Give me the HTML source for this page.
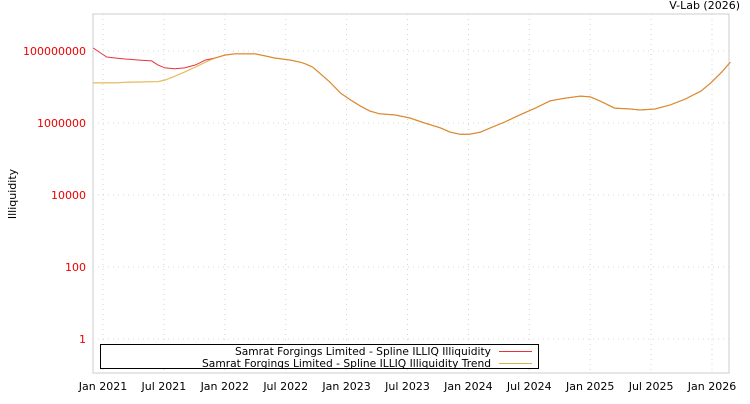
<!DOCTYPE html>
<html><head><meta charset="utf-8"><style>
body{margin:0;background:#fff;font-family:"DejaVu Sans","Liberation Sans",sans-serif;}
svg text{font-family:"DejaVu Sans","Liberation Sans",sans-serif;}
</style></head><body>
<svg id="c" width="750" height="400"></svg>
<script>
const dates=[2020.92,2020.98,2021.03,2021.10,2021.18,2021.30,2021.40,2021.45,2021.51,2021.59,2021.67,2021.76,2021.84,2021.92,2022.00,2022.08,2022.25,2022.33,2022.41,2022.54,2022.62,2022.66,2022.72,2022.78,2022.86,2022.95,2023.03,2023.11,2023.19,2023.27,2023.40,2023.52,2023.64,2023.77,2023.85,2023.93,2024.01,2024.10,2024.18,2024.30,2024.42,2024.55,2024.67,2024.79,2024.92,2025.00,2025.08,2025.20,2025.33,2025.41,2025.53,2025.66,2025.78,2025.91,2025.99,2026.08,2026.15];
const illiq=[1.21e8,8.8e7,6.8e7,6.4e7,6.0e7,5.6e7,5.3e7,4.1e7,3.4e7,3.2e7,3.4e7,4.1e7,5.6e7,6.4e7,7.7e7,8.3e7,8.3e7,7.3e7,6.4e7,5.6e7,4.9e7,4.4e7,3.6e7,2.4e7,1.4e7,6.8e6,4.4e6,3.0e6,2.15e6,1.8e6,1.67e6,1.38e6,1.0e6,7.3e5,5.6e5,4.9e5,4.9e5,5.6e5,7.3e5,1.07e6,1.67e6,2.6e6,4.1e6,4.9e6,5.6e6,5.3e6,4.1e6,2.6e6,2.45e6,2.3e6,2.45e6,3.2e6,4.6e6,7.7e6,1.3e7,2.6e7,4.9e7];
const trend=[1.3e7,1.3e7,1.3e7,1.3e7,1.35e7,1.38e7,1.4e7,1.4e7,1.56e7,2.0e7,2.6e7,3.6e7,4.9e7,6.4e7,7.7e7,8.3e7,8.3e7,7.3e7,6.4e7,5.6e7,4.9e7,4.4e7,3.6e7,2.4e7,1.4e7,6.8e6,4.4e6,3.0e6,2.15e6,1.8e6,1.67e6,1.38e6,1.0e6,7.3e5,5.6e5,4.9e5,4.9e5,5.6e5,7.3e5,1.07e6,1.67e6,2.6e6,4.1e6,4.9e6,5.6e6,5.3e6,4.1e6,2.6e6,2.45e6,2.3e6,2.45e6,3.2e6,4.6e6,7.7e6,1.3e7,2.6e7,4.9e7];
const yTicks=[1,100,10000,1000000,100000000];
const xTickLabels=["Jan 2021","Jul 2021","Jan 2022","Jul 2022","Jan 2023","Jul 2023","Jan 2024","Jul 2024","Jan 2025","Jul 2025","Jan 2026"];
const xTickVals=[2021,2021.5,2022,2022.5,2023,2023.5,2024,2024.5,2025,2025.5,2026];

const NS="http://www.w3.org/2000/svg";const svg=document.getElementById('c');
const L=93,R=729,T=14,B=373;
const xs=v=>103+(v-2021)*121.8;
const ys=v=>339-Math.log10(v)*36;
function mk(t,a,p){const e=document.createElementNS(NS,t);for(const k in a)e.setAttribute(k,a[k]);(p||svg).appendChild(e);return e;}
const frame=mk('rect',{x:L,y:T,width:R-L,height:B-T,fill:'#fff',stroke:'#ccc'});


yTicks.forEach(v=>{const y=ys(v);
 const g=mk('line',{x1:L,x2:R,y1:y,y2:y,stroke:'#d4d4d4','stroke-dasharray':'1,4'});
 
 
 const t=mk('text',{x:86,y:y+4,'text-anchor':'end','font-size':11,fill:'#e00'});t.textContent=String(v);
 
 });
xTickVals.forEach((v,i)=>{const x=xs(v);
 const g=mk('line',{x1:x,x2:x,y1:T,y2:B,stroke:'#d4d4d4','stroke-dasharray':'1,4'});
 
 
 const t=mk('text',{x:x,y:390,'text-anchor':'middle','font-size':11,fill:'#000'});t.textContent=xTickLabels[i];
 
 });
function path(vals){return vals.map((v,i)=>(i?'L':'M')+xs(dates[i]).toFixed(1)+','+ys(v).toFixed(1)).join('');}
const p1=mk('path',{d:path(illiq),fill:'none',stroke:'#e8333a','stroke-width':1});


const p2=mk('path',{d:path(trend),fill:'none',stroke:'rgba(215,165,40,0.75)','stroke-width':1.2});


const yt=mk('text',{x:0,y:0,transform:'translate(16,194) rotate(-90)','text-anchor':'middle','font-size':11,fill:'#000'});yt.textContent='Illiquidity';


const src=mk('text',{x:740,y:9,'text-anchor':'end','font-size':11,fill:'#000'});src.textContent='V-Lab (2026)';


const lg=mk('g',{});


mk('rect',{x:100.5,y:344.5,width:438,height:24,fill:'#fff',stroke:'#000'},lg);
const e1=mk('text',{x:491,y:355,'text-anchor':'end','font-size':11,textLength:256,lengthAdjust:'spacingAndGlyphs'},lg);e1.textContent='Samrat Forgings Limited - Spline ILLIQ Illiquidity';


mk('line',{x1:499,x2:532,y1:351.5,y2:351.5,stroke:'#e8333a'},lg);
const e2=mk('text',{x:491,y:367,'text-anchor':'end','font-size':11,textLength:289,lengthAdjust:'spacingAndGlyphs'},lg);e2.textContent='Samrat Forgings Limited - Spline ILLIQ Illiquidity Trend';


mk('line',{x1:499,x2:532,y1:363.5,y2:363.5,stroke:'#d4b050'},lg);
</script>
</body></html>
